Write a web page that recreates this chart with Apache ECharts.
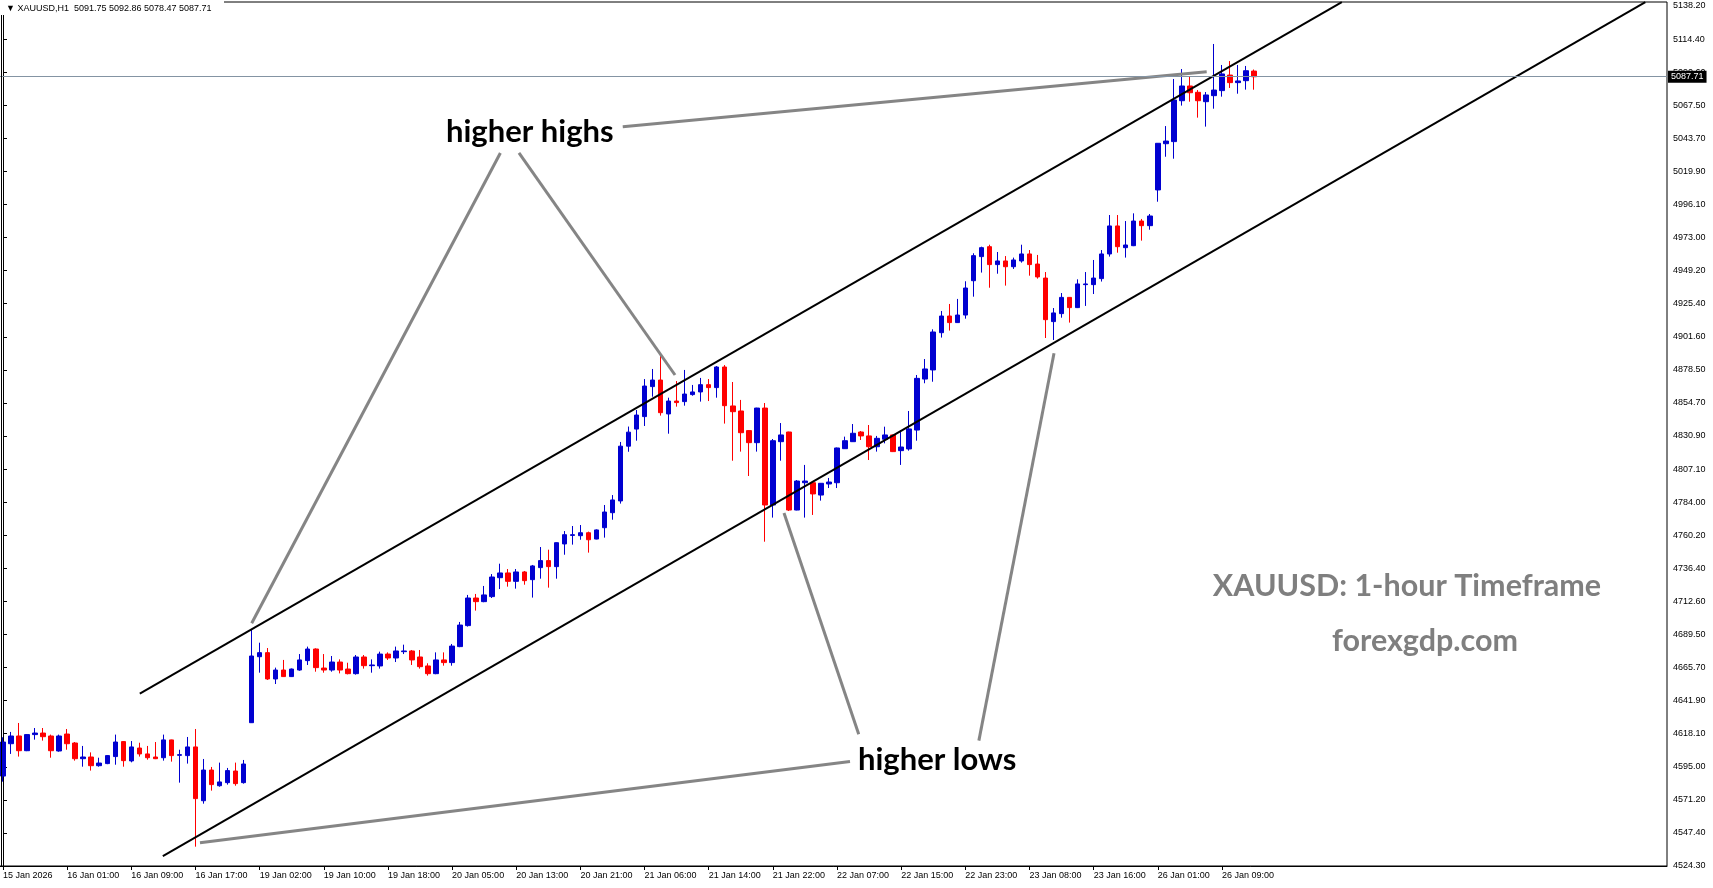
<!DOCTYPE html>
<html>
<head>
<meta charset="utf-8">
<title>XAUUSD H1</title>
<script src="https://cdn.jsdelivr.net/npm/echarts@6.0.0/dist/echarts.min.js"></script>
<style>
html, body { margin: 0; padding: 0; background: #fff; }
#chart { width: 1713px; height: 888px; }
</style>
</head>
<body>
<div id="chart"></div>
<script>
// hourly bars, 15 Jan 17:00 -> 26 Jan 13:00
var opens = [
  4588.5, 4611.6, 4617.1, 4606.6, 4618.1, 4619.2, 4617.1, 4606.4, 4618.5, 4612.1,
  4600.9, 4602.1, 4595.9, 4597.4, 4602.4, 4613.1, 4599.3, 4608.5, 4604.3, 4602.1,
  4601.6, 4614.3, 4603.3, 4603.1, 4609.3, 4570.9, 4592.8, 4581.6, 4583.8, 4592.1,
  4583.8, 4626.6, 4673.7, 4676.6, 4657.8, 4664.2, 4659.5, 4664.2, 4670.9, 4679.2,
  4665.6, 4664.2, 4669.9, 4664.9, 4661.6, 4673.5, 4667.3, 4667.1, 4675.6, 4672.8,
  4677.3, 4677.8, 4673.5, 4667.1, 4661.6, 4671.4, 4669.5, 4680.9, 4695.9, 4715.6,
  4713.0, 4716.6, 4730.1, 4733.5, 4727.5, 4734.2, 4728.7, 4737.3, 4742.3, 4738.0,
  4754.2, 4760.3, 4760.1, 4762.2, 4757.7, 4765.8, 4776.5, 4784.9, 4824.0, 4836.2,
  4845.1, 4866.5, 4871.2, 4847.0, 4856.2, 4855.8, 4860.8, 4862.7, 4867.9, 4865.8,
  4880.5, 4852.7, 4849.1, 4835.1, 4826.5, 4851.2, 4782.0, 4827.2, 4834.1, 4778.4,
  4797.9, 4797.9, 4789.1, 4797.0, 4797.9, 4822.2, 4827.2, 4834.1, 4831.3, 4823.6,
  4828.9, 4832.0, 4820.8, 4822.0, 4835.5, 4871.9, 4878.4, 4905.0, 4916.9, 4912.2,
  4917.6, 4942.1, 4959.3, 4966.4, 4953.6, 4956.2, 4952.1, 4956.2, 4961.2, 4954.0,
  4944.0, 4912.9, 4918.6, 4930.2, 4922.9, 4939.3, 4939.3, 4943.6, 4961.2, 4981.2,
  4965.7, 4967.1, 4984.7, 4981.4, 5006.9, 5039.9, 5041.4, 5070.6, 5081.1, 5076.6,
  5069.9, 5074.2, 5077.8, 5088.9, 5083.5, 5084.9, 5091.75
];
var closes = [
  4612.8, 4617.1, 4606.6, 4618.1, 4619.2, 4616.6, 4606.6, 4617.1, 4611.6, 4600.9,
  4602.1, 4595.9, 4597.8, 4603.1, 4612.8, 4599.5, 4609.3, 4604.3, 4601.6, 4600.9,
  4614.3, 4603.1, 4603.8, 4609.3, 4572.4, 4592.8, 4582.4, 4584.3, 4592.4, 4583.1,
  4597.1, 4674.2, 4676.6, 4657.8, 4664.2, 4659.5, 4664.9, 4671.4, 4679.2, 4665.9,
  4664.2, 4669.9, 4664.2, 4661.6, 4673.5, 4667.3, 4667.8, 4675.6, 4672.8, 4677.8,
  4677.8, 4671.4, 4666.6, 4661.6, 4671.4, 4669.5, 4681.3, 4696.3, 4715.6, 4713.0,
  4717.8, 4730.6, 4733.5, 4727.5, 4734.2, 4728.0, 4738.5, 4742.3, 4738.0, 4755.1,
  4760.8, 4760.8, 4762.2, 4757.2, 4764.2, 4777.0, 4785.6, 4824.0, 4834.0, 4846.2,
  4866.9, 4871.2, 4847.9, 4856.2, 4855.1, 4861.2, 4862.7, 4867.9, 4865.8, 4880.5,
  4852.9, 4848.6, 4833.6, 4826.5, 4851.2, 4782.0, 4827.9, 4832.0, 4778.4, 4799.1,
  4799.1, 4789.9, 4797.5, 4798.4, 4822.7, 4827.9, 4833.2, 4831.3, 4823.6, 4829.6,
  4832.0, 4820.1, 4823.4, 4836.3, 4872.4, 4879.1, 4905.5, 4916.9, 4912.2, 4917.6,
  4936.9, 4960.0, 4965.7, 4953.6, 4956.2, 4952.1, 4956.9, 4961.2, 4953.6, 4944.8,
  4914.3, 4919.1, 4930.2, 4922.9, 4939.8, 4939.8, 4944.0, 4961.2, 4981.2, 4966.4,
  4967.6, 4984.7, 4981.4, 4988.3, 5040.2, 5041.8, 5071.1, 5081.1, 5076.3, 5070.6,
  5074.7, 5078.2, 5089.7, 5083.5, 5084.7, 5092.0, 5087.71
];
var lows = [
  4584.5, 4604.3, 4602.4, 4606.3, 4614.5, 4613.8, 4601.6, 4605.9, 4607.3, 4599.5,
  4595.2, 4592.4, 4595.2, 4597.0, 4596.6, 4595.2, 4598.3, 4602.4, 4600.2, 4600.6,
  4599.5, 4598.8, 4583.8, 4597.4, 4538.1, 4568.8, 4578.1, 4580.9, 4582.4, 4581.6,
  4583.1, 4626.4, 4662.3, 4657.1, 4654.2, 4659.3, 4659.2, 4663.7, 4667.8, 4663.0,
  4662.3, 4663.0, 4661.8, 4661.1, 4660.9, 4665.2, 4662.3, 4665.2, 4671.4, 4669.9,
  4675.6, 4667.8, 4665.2, 4660.2, 4661.2, 4667.3, 4667.3, 4680.5, 4695.2, 4706.6,
  4712.6, 4715.6, 4722.0, 4723.7, 4722.3, 4725.1, 4715.9, 4729.4, 4723.0, 4729.4,
  4746.5, 4753.7, 4757.2, 4748.0, 4757.5, 4758.7, 4771.5, 4783.0, 4820.0, 4827.9,
  4838.4, 4859.3, 4845.8, 4832.9, 4852.2, 4852.9, 4860.0, 4855.8, 4856.2, 4858.6,
  4840.1, 4813.6, 4820.1, 4802.7, 4820.1, 4755.8, 4773.0, 4813.6, 4777.7, 4778.2,
  4773.0, 4774.9, 4785.1, 4794.1, 4794.1, 4822.0, 4827.0, 4828.4, 4814.1, 4820.1,
  4826.0, 4819.8, 4810.6, 4820.8, 4827.9, 4868.9, 4870.0, 4901.5, 4906.5, 4912.0,
  4915.0, 4930.7, 4947.9, 4937.1, 4947.1, 4938.6, 4950.5, 4955.0, 4945.7, 4943.6,
  4901.2, 4899.8, 4915.7, 4912.2, 4922.6, 4924.1, 4932.6, 4941.5, 4959.3, 4962.1,
  4958.6, 4966.8, 4970.7, 4978.5, 4998.5, 5030.6, 5029.2, 5067.1, 5069.9, 5058.5,
  5052.1, 5064.9, 5073.5, 5079.7, 5075.6, 5078.5, 5078.47
];
var highs = [
  4616.2, 4620.0, 4626.4, 4618.5, 4622.8, 4622.8, 4618.1, 4618.1, 4622.1, 4612.8,
  4610.0, 4605.4, 4601.6, 4603.5, 4618.1, 4613.5, 4613.5, 4612.3, 4610.0, 4612.8,
  4618.1, 4614.5, 4607.3, 4616.4, 4622.1, 4600.7, 4595.0, 4598.1, 4594.3, 4598.1,
  4600.0, 4693.2, 4683.7, 4679.9, 4665.9, 4671.4, 4665.3, 4675.6, 4680.9, 4679.7,
  4675.6, 4674.2, 4671.8, 4669.4, 4674.9, 4674.9, 4671.8, 4677.3, 4676.8, 4680.9,
  4682.3, 4678.5, 4678.5, 4669.0, 4676.8, 4676.8, 4682.8, 4698.5, 4717.8, 4718.5,
  4724.2, 4732.7, 4740.1, 4736.3, 4736.3, 4734.9, 4739.2, 4752.0, 4750.1, 4755.3,
  4763.4, 4767.0, 4767.7, 4763.0, 4764.6, 4782.0, 4789.1, 4827.0, 4838.0, 4849.8,
  4871.9, 4879.1, 4890.3, 4858.6, 4870.5, 4878.4, 4867.7, 4872.7, 4871.9, 4881.2,
  4881.9, 4869.8, 4857.0, 4835.5, 4851.4, 4854.8, 4829.1, 4840.5, 4834.3, 4799.8,
  4810.6, 4798.7, 4797.7, 4801.3, 4823.0, 4830.8, 4839.8, 4834.8, 4839.1, 4831.3,
  4837.9, 4832.2, 4835.5, 4849.1, 4874.8, 4886.2, 4907.4, 4920.5, 4925.5, 4929.1,
  4941.7, 4961.7, 4966.4, 4967.8, 4962.6, 4959.7, 4958.6, 4967.8, 4964.0, 4960.5,
  4948.3, 4922.6, 4933.3, 4930.4, 4943.1, 4948.3, 4956.9, 4964.0, 4989.0, 4989.0,
  4984.7, 4990.2, 4986.2, 4989.7, 5040.4, 5052.5, 5086.1, 5093.2, 5088.2, 5078.2,
  5076.8, 5111.1, 5096.1, 5098.9, 5096.1, 5095.4, 5092.86
];

// x tick labels, one every 8 bars
var xLabels = [
  '15 Jan 2026', '16 Jan 01:00', '16 Jan 09:00', '16 Jan 17:00', '19 Jan 02:00',
  '19 Jan 10:00', '19 Jan 18:00', '20 Jan 05:00', '20 Jan 13:00', '20 Jan 21:00',
  '21 Jan 06:00', '21 Jan 14:00', '21 Jan 22:00', '22 Jan 07:00', '22 Jan 15:00',
  '22 Jan 23:00', '23 Jan 08:00', '23 Jan 16:00', '26 Jan 01:00', '26 Jan 09:00'
];
// price scale labels, top to bottom
var yLabels = [
  '5138.20', '5114.40', '5090.60', '5067.50', '5043.70', '5019.90', '4996.10',
  '4973.00', '4949.20', '4925.40', '4901.60', '4878.50', '4854.70', '4830.90',
  '4807.10', '4784.00', '4760.20', '4736.40', '4712.60', '4689.50', '4665.70',
  '4641.90', '4618.10', '4595.00', '4571.20', '4547.40', '4524.30'
];

var lastPrice = 5087.71;

// drawn objects: [bar index, price]
var upperChannel = [[17.06, 4647.4], [166.95, 5141.0]];
var lowerChannel = [[19.93, 4531.4], [204.8, 5141.0]];
var highsPointers = [
  [[62.02, 5033.3], [31.01, 4697.6]],
  [[64.34, 5033.3], [83.80, 4874.8]],
  [[77.28, 5052.0], [150.1, 5091.3]]
];
var lowsPointers = [
  [[24.56, 4540.9], [105.62, 4598.9]],
  [[97.39, 4776.3], [106.71, 4618.4]],
  [[131.06, 4890.3], [121.69, 4613.8]]
];

var slots = 208;
var yMin = 4524.3;
var yStep = (5138.2 - 4524.3) / 26;
var yMax = 5141.06;

var categories = [];
for (var i = 0; i < slots; i++) categories.push(String(i));

var candles = opens.map(function (o, i) {
  return [o, closes[i], lows[i], highs[i]];
});

var labelFont = 'Liberation Sans';
var showEvery8 = function (index) {
  return index % 8 === 0 && index / 8 < xLabels.length;
};

var series = [
  {
    type: 'candlestick',
    xAxisIndex: 0,
    yAxisIndex: 0,
    data: candles,
    barWidth: 5,
    itemStyle: {
      color: '#0000d0',
      color0: '#ff0000',
      borderColor: '#0000d0',
      borderColor0: '#ff0000',
      borderWidth: 1
    },
    markLine: {
      silent: true,
      symbol: 'none',
      animation: false,
      data: [{ yAxis: lastPrice }],
      lineStyle: { color: '#8494a3', width: 1, type: 'solid' },
      label: {
        show: true,
        position: 'end',
        distance: 1,
        formatter: lastPrice.toFixed(2),
        backgroundColor: '#000',
        color: '#fff',
        fontFamily: labelFont,
        fontSize: 9,
        padding: [2, 3, 1, 3]
      }
    }
  }
];

function addLine(pts, color, width) {
  series.push({
    type: 'line',
    xAxisIndex: 1,
    yAxisIndex: 0,
    data: pts,
    symbol: 'none',
    silent: true,
    lineStyle: { color: color, width: width }
  });
}
addLine(upperChannel, '#000', 2);
addLine(lowerChannel, '#000', 2);
highsPointers.forEach(function (p) { addLine(p, '#858585', 3); });
lowsPointers.forEach(function (p) { addLine(p, '#858585', 3); });

var chart = echarts.init(document.getElementById('chart'));
chart.setOption({
  animation: false,
  backgroundColor: '#fff',
  grid: {
    left: -1, right: 46, top: 2, bottom: 22,
    show: true, borderColor: '#000', borderWidth: 1,
    outerBoundsMode: 'none'
  },
  xAxis: [
    {
      type: 'category',
      data: categories,
      boundaryGap: true,
      axisLine: { show: true, lineStyle: { color: '#000', width: 1 } },
      axisTick: {
        show: true, alignWithLabel: true, interval: showEvery8,
        length: 4, lineStyle: { color: '#000' }
      },
      axisLabel: {
        interval: showEvery8,
        align: 'left',
        margin: 5,
        color: '#000',
        fontFamily: labelFont,
        fontSize: 9,
        formatter: function (value) {
          var k = Number(value);
          return k % 8 === 0 && xLabels[k / 8] ? xLabels[k / 8] : '';
        }
      },
      splitLine: { show: false }
    },
    { type: 'value', min: -0.5, max: slots - 0.5, show: false }
  ],
  yAxis: {
    type: 'value',
    position: 'right',
    min: yMin,
    max: yMax,
    interval: yStep,
    axisLine: { show: true, lineStyle: { color: '#000', width: 1 } },
    axisTick: { show: true, length: 4, lineStyle: { color: '#000' } },
    axisLabel: {
      margin: 6,
      color: '#000',
      fontFamily: labelFont,
      fontSize: 9,
      formatter: function (v) {
        var r = (v - yMin) / yStep;
        var k = Math.round(r);
        if (Math.abs(r - k) > 0.05) return '';
        return yLabels[26 - k] || '';
      }
    },
    splitLine: { show: false }
  },
  graphic: [
    { type: 'line', z: 90, shape: { x1: 1.5, y1: 0, x2: 1.5, y2: 866 },
      style: { stroke: '#000', lineWidth: 1 } },
    { type: 'rect', z: 95, shape: { x: 0, y: 0, width: 224, height: 15 },
      style: { fill: '#fff' } },
    { type: 'text', z: 100, x: 6, y: 9,
      style: { text: '\u25BC XAUUSD,H1  5091.75 5092.86 5078.47 5087.71',
               fill: '#000', font: '9px "Liberation Sans"', verticalAlign: 'middle' } },
    { type: 'text', z: 100, x: 446, y: 132,
      style: { text: 'higher highs', fill: '#000', font: 'bold 31px Lato',
               verticalAlign: 'middle' } },
    { type: 'text', z: 100, x: 858, y: 760,
      style: { text: 'higher lows', fill: '#000', font: 'bold 31px Lato',
               verticalAlign: 'middle' } },
    { type: 'text', z: 100, x: 1407, y: 586,
      style: { text: 'XAUUSD: 1-hour Timeframe', fill: '#7f7f7f', font: 'bold 30.5px Lato',
               align: 'center', verticalAlign: 'middle' } },
    { type: 'text', z: 100, x: 1425, y: 641,
      style: { text: 'forexgdp.com', fill: '#7f7f7f', font: 'bold 30.5px Lato',
               align: 'center', verticalAlign: 'middle' } }
  ],
  series: series
});
</script>
</body>
</html>
